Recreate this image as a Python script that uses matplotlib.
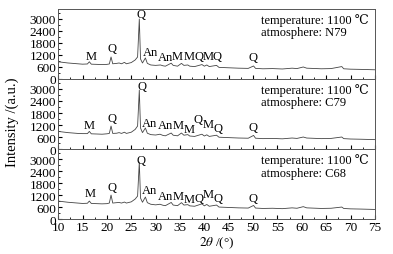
import matplotlib.pyplot as plt
from matplotlib.ticker import MultipleLocator

plt.rcParams['font.family'] = ['Liberation Serif', 'DejaVu Serif']
plt.rcParams['mathtext.fontset'] = 'stix'

# 2theta / intensity points
x_n79 = [10, 11, 12, 13, 14, 15, 16, 16.4, 16.8, 18, 19, 20, 20.5, 20.85, 21.2, 22, 22.5, 23, 23.6, 24,
         25, 25.8, 26.3, 26.65, 26.9, 27.3, 27.9, 28.3, 29, 30, 31, 31.5, 32, 33.2, 33.6, 34.5, 35.3, 35.8,
         36.6, 37, 38, 39.5, 40, 40.5, 41, 42.5, 43, 45, 47, 49, 50.1, 50.5, 52, 54, 56, 58, 59, 60.3, 61,
         63, 64, 66, 68.2, 68.6, 70, 72, 75]
y_n79 = [860, 830, 800, 780, 760, 740, 750, 860, 740, 730, 720, 730, 750, 1100, 760, 780, 800, 760, 830, 760,
         820, 950, 1100, 3000, 1000, 800, 1050, 780, 700, 680, 700, 660, 640, 790, 680, 640, 780, 680,
         700, 640, 620, 720, 640, 700, 620, 680, 580, 560, 540, 530, 650, 530, 510, 520, 500, 540, 520, 600, 540,
         520, 510, 520, 620, 510, 490, 480, 460]

x_c79 = [10, 11, 12, 13, 14, 15, 16, 16.4, 16.8, 18, 19, 20, 20.5, 20.85, 21.2, 22, 22.5, 23, 23.6, 24,
         25, 25.8, 26.3, 26.65, 26.9, 27.3, 27.9, 28.3, 29, 30, 30.9, 31.5, 32, 33.2, 33.6, 34.5, 35.3, 35.8,
         36.6, 37, 38, 39.5, 40, 40.5, 41, 42.5, 43, 45, 47, 49, 50.1, 50.5, 52, 54, 56, 58, 59, 60.3, 61,
         63, 64, 66, 68.2, 68.6, 70, 72, 75]
y_c79 = [880, 850, 820, 800, 780, 770, 770, 880, 760, 750, 740, 760, 780, 1150, 780, 790, 820, 780, 840, 780,
         840, 980, 1150, 2950, 1050, 820, 1050, 790, 720, 700, 740, 680, 660, 800, 690, 660, 800, 690,
         720, 650, 630, 740, 650, 710, 630, 690, 590, 570, 550, 540, 680, 540, 520, 530, 510, 550, 530, 600, 550,
         530, 520, 530, 600, 520, 500, 490, 470]

x_c68 = [10, 11, 12, 13, 14, 15, 16, 16.4, 16.8, 18, 19, 20, 20.5, 20.85, 21.2, 22, 22.5, 23, 23.6, 24,
         25, 25.8, 26.3, 26.65, 26.9, 27.3, 27.9, 28.3, 29, 30, 30.9, 31.5, 32, 33.2, 33.6, 34.5, 35.3, 35.8,
         36.6, 37, 38, 39.5, 40, 40.5, 41, 42.5, 43, 45, 47, 49, 50.1, 50.5, 52, 54, 56, 58, 59, 60.3, 61,
         63, 64, 66, 68.2, 68.6, 70, 72, 75]
y_c68 = [900, 870, 840, 820, 800, 780, 790, 900, 780, 770, 760, 770, 800, 1200, 800, 820, 830, 800, 850, 800,
         860, 1000, 1150, 2850, 1050, 840, 1100, 820, 740, 710, 740, 690, 670, 830, 700, 670, 820, 700,
         720, 660, 640, 760, 660, 730, 640, 700, 600, 580, 560, 550, 680, 550, 530, 540, 520, 560, 540, 620, 560,
         540, 530, 540, 600, 530, 510, 500, 480]

atmospheres = ['N79', 'C79', 'C68']

# phase labels: text, 2theta, height
lab_n79 = [('M', 16.7, 1150), ('Q', 21.1, 1550), ('Q', 27.0, 3250), ('An', 28.9, 1350), ('An', 32.0, 1100),
           ('M', 34.4, 1150), ('M', 36.9, 1150), ('Q', 38.8, 1150), ('M', 40.7, 1150), ('Q', 42.6, 1150),
           ('Q', 50.0, 1100)]
lab_c79 = [('M', 16.3, 1200), ('Q', 21.1, 1550), ('Q', 27.2, 3150), ('An', 28.8, 1300), ('An', 32.0, 1200),
           ('M', 34.7, 1200), ('M', 36.8, 1000), ('Q', 38.7, 1500), ('M', 40.7, 1250), ('Q', 42.8, 1050),
           ('Q', 50.0, 1100)]
lab_c68 = [('M', 16.6, 1300), ('Q', 21.1, 1600), ('Q', 26.9, 2950), ('An', 28.8, 1450), ('An', 32.0, 1150),
           ('M', 34.7, 1150), ('M', 36.9, 1000), ('Q', 38.8, 1050), ('M', 40.8, 1250), ('Q', 42.8, 1050),
           ('Q', 50.0, 1050)]

xs = [x_n79, x_c79, x_c68]
ys = [y_n79, y_c79, y_c68]
labs = [lab_n79, lab_c79, lab_c68]

fig, axes = plt.subplots(3, 1, figsize=(3.93, 2.55), dpi=100, sharex=True)
fig.subplots_adjust(left=0.148, right=0.954, bottom=0.137, top=0.961, hspace=0)

for ax, x, y, lab, atm in zip(axes, xs, ys, labs, atmospheres):
    ax.plot(x, y, color='#444444', lw=0.6)
    for t, px, py in lab:
        ax.text(px, py, t, ha='center', va='center', fontsize=9)
    ax.text(0.64, 0.76, 'temperature: 1100 \u2103\natmosphere: ' + atm,
            transform=ax.transAxes, ha='left', va='center', fontsize=9, linespacing=1.05)
    ax.set_xlim(10, 75)
    ax.set_ylim(0, 3500)
    ax.set_yticks([0, 600, 1200, 1800, 2400, 3000])
    ax.yaxis.set_minor_locator(MultipleLocator(300))
    ax.xaxis.set_major_locator(MultipleLocator(5))
    ax.xaxis.set_minor_locator(MultipleLocator(2.5))
    ax.tick_params(direction='in', which='both', labelsize=9.5, pad=1.5, length=3)
    ax.tick_params(which='minor', length=1.5)
    for s in ax.spines.values():
        s.set_color('#555555')
        s.set_linewidth(0.7)

axes[-1].set_xlabel(r'$2\theta$ /(°)', fontsize=9.5, labelpad=1)
fig.text(0.03, 0.52, 'Intensity /(a.u.)', rotation=90, ha='center', va='center', fontsize=10.5)

fig.savefig('out.png', dpi=100)
